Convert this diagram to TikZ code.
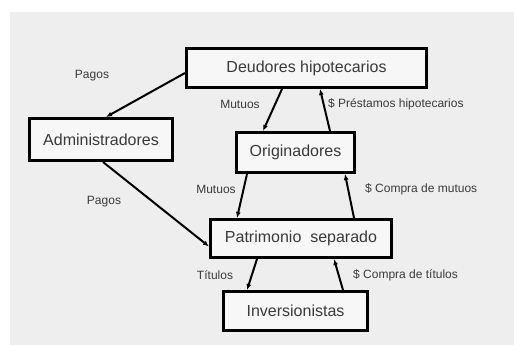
\documentclass[tikz,border=0pt]{standalone}
\usepackage{fontspec}
\setmainfont{Liberation Sans}
\usepackage{tikz}
\usetikzlibrary{arrows.meta}

\definecolor{fondo}{HTML}{EEEEEE}
\definecolor{caja}{HTML}{F7F7F7}
\definecolor{texto}{HTML}{3A3A3A}

\begin{document}
\begin{tikzpicture}[x=1pt,y=-1pt,
	bloque/.style={draw=black,fill=caja,line width=3pt,inner sep=0pt,text=texto,font=\fontsize{16}{18}\selectfont},
	flecha/.style={-{Latex[length=6pt,width=5pt]},line width=2pt},
	etiqueta/.style={text=texto,font=\fontsize{12}{14}\selectfont,inner sep=0pt}]
	\useasboundingbox (0,0) rectangle (514,345);
	\fill[fondo] (10,12) rectangle (514,345);
	% cajas
	\node[bloque,minimum width=240pt,minimum height=39pt] (deudores) at (306.5,68) {Deudores hipotecarios};
	\node[bloque,minimum width=143pt,minimum height=42pt] (admin) at (101,139.5) {Administradores};
	\node[bloque,minimum width=118pt,minimum height=40pt] (origin) at (295.5,152.5) {Originadores};
	\node[bloque,minimum width=181pt,minimum height=38pt] (patrim) at (301,238.5) {Patrimonio\ \ separado};
	\node[bloque,minimum width=144pt,minimum height=39pt] (invers) at (295.5,311) {Inversionistas};
	% flechas
	\draw[flecha] ([yshift=-5pt]deudores.west) -- ([xshift=5pt]admin.north);
	\draw[flecha] ([xshift=2pt]admin.south) -- ([yshift=-8pt]patrim.west);
	\draw[flecha] ([xshift=-24.5pt]deudores.south) -- ([xshift=-32.5pt]origin.north);
	\draw[flecha] ([xshift=34.5pt]origin.north) -- ([xshift=13.5pt]deudores.south);
	\draw[flecha] ([xshift=-48.5pt]origin.south) -- ([xshift=-64pt]patrim.north);
	\draw[flecha] ([xshift=53pt]patrim.north) -- ([xshift=49.5pt]origin.south);
	\draw[flecha] ([xshift=-44pt]patrim.south) -- ([xshift=-48.5pt]invers.north);
	\draw[flecha] ([xshift=47.5pt]invers.north) -- ([xshift=33pt]patrim.south);
	% textos
	\node[etiqueta] (pagos1) at (92,76) {Pagos};
	\node[etiqueta] (pagos2) at (104,202) {Pagos};
	\node[etiqueta] (mutuos1) at (240,104) {Mutuos};
	\node[etiqueta,anchor=west] (prestamos) at (328,104) {\$ Préstamos hipotecarios};
	\node[etiqueta] (mutuos2) at (216,189) {Mutuos};
	\node[etiqueta,anchor=west] (compram) at (365,189) {\$ Compra de mutuos};
	\node[etiqueta] (titulos) at (215,275) {Títulos};
	\node[etiqueta,anchor=west] (comprat) at (353,275) {\$ Compra de títulos};
\end{tikzpicture}
\end{document}
